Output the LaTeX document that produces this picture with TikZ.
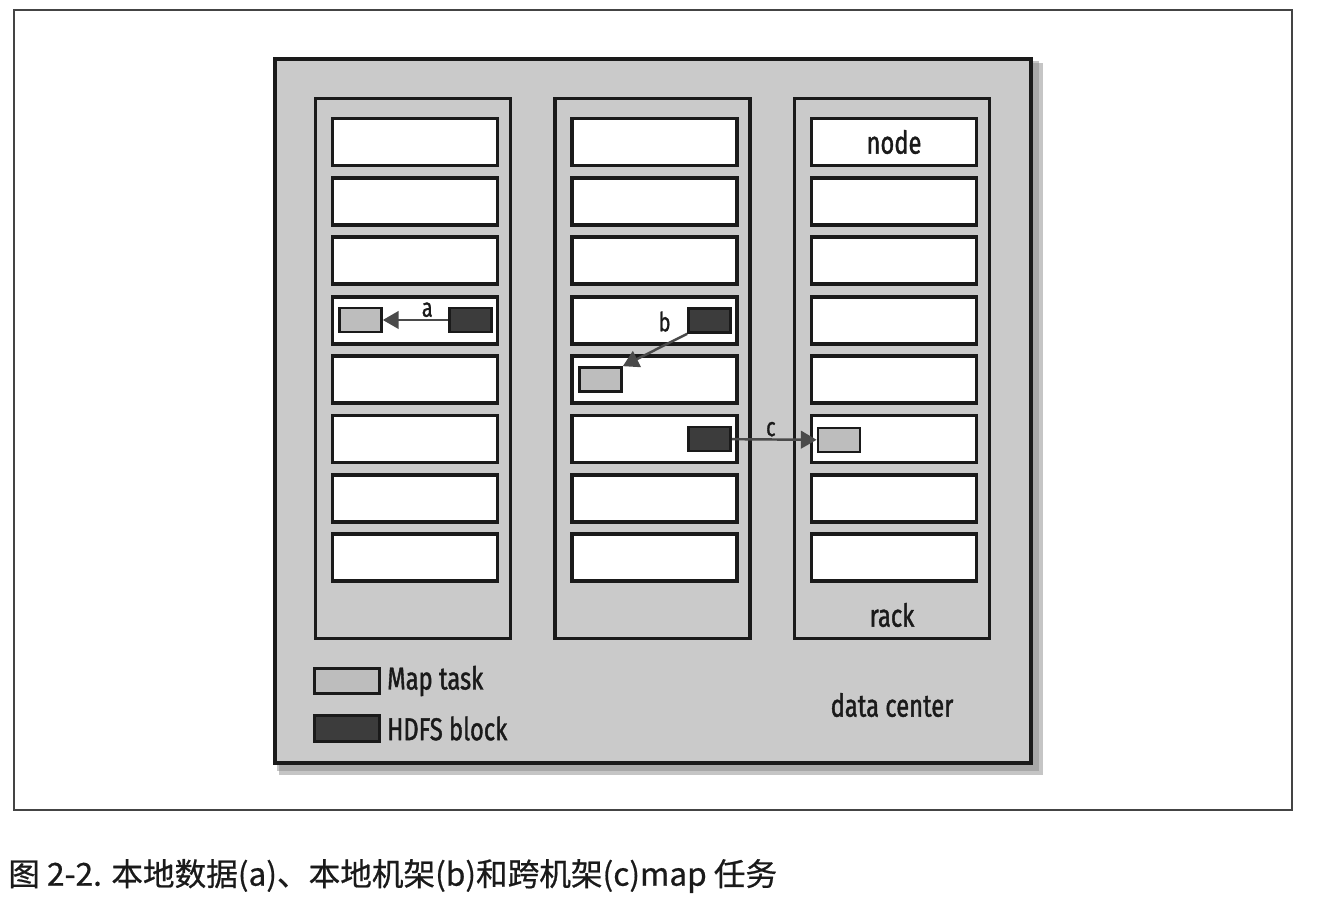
\documentclass[tikz,border=0pt]{standalone}
\usepackage{fontspec}
\usetikzlibrary{arrows.meta,positioning}
\newfontfamily\labelfont[FakeStretch=0.75, FakeBold=1.2]{Fira Sans}
\newfontfamily\cjkfont[FakeBold=0.6]{Noto Sans CJK SC}
\definecolor{linegray}{HTML}{1A1A1A}
\definecolor{framegray}{HTML}{444444}
\definecolor{dcgray}{HTML}{CACACA}
\definecolor{shadowgray}{HTML}{8C8C8C}
\definecolor{taskgray}{HTML}{BDBDBD}
\definecolor{blockgray}{HTML}{3C3C3C}
\definecolor{arrowgray}{HTML}{4A4A4A}
\begin{document}
\begin{tikzpicture}[x=0.02cm, y=-0.02cm,
  rack box/.style={draw=linegray, line width=2pt, minimum width=3.9cm, minimum height=10.8cm, inner sep=0pt},
  node box/.style={draw=linegray, fill=white, line width=2.1pt, minimum width=3.3cm, minimum height=0.94cm, inner sep=0pt},
  task box/.style={draw=linegray, fill=taskgray, line width=1.5pt, minimum width=0.84cm, minimum height=0.48cm, inner sep=0pt},
  block box/.style={task box, fill=blockgray},
  move/.style={-{Triangle[length=9pt,width=10pt]}, draw=arrowgray, line width=1.4pt}]
  \tikzstyle{every node}=[font=\labelfont\fontsize{18}{20}\selectfont, text=linegray]

  \useasboundingbox (0,0) rectangle (1326,918);
  \draw[framegray, line width=0.8pt] (14,10) rectangle (1292,810);

  % data center with its shadow
  \fill[shadowgray, opacity=0.5] (279,63) rectangle (1043,775);
  \fill[shadowgray, opacity=0.5] (277,61) rectangle (1039,771);
  \node[draw=linegray, fill=dcgray, line width=2.2pt, minimum width=15.13cm, minimum height=14.09cm, inner sep=0pt] (dc) at (653,411) {};

  % racks and their nodes
  \foreach \r in {1,2,3} {
    \node[rack box] (rack\r) at (413+239.5*\r-239.5, 368.5) {};
    \foreach \n in {1,...,8}
      \node[node box] (n\r-\n) at (415+239.5*\r-239.5, 142+59.4*\n-59.4) {};
  }

  \node (nodelabel) at (n3-1) {node};
  \node (racklabel) at (892,615) {rack};
  \node (dclabel) at (892,705) {data center};

  % map tasks and blocks
  \node[task box] (taska) at (360.5,320) {};
  \node[block box] (blka) at (470.5,320) {};
  \node[task box] (taskb) at (600.5,379.5) {};
  \node[block box] (blkb) at (709.5,320.5) {};
  \node[block box] (blkc) at (709.5,439) {};
  \node[task box] (taskc) at (839,440) {};

  \path[every node/.style={font=\labelfont\fontsize{15}{16}\selectfont, text=linegray, inner sep=1pt}]
    (blka) edge[move] node [pos=0.32, above] {a} (taska)
    (blkb.south west) edge[move] node [pos=0.35, above, yshift=6pt] {b} (taskb.north east)
    (blkc) edge[move] node [pos=0.46, above] {c} (taskc);

  % legend
  \node[task box, minimum width=1.31cm, minimum height=0.51cm] (legtask) at (347,681) {};
  \node[right=0pt of legtask] (legtasktext) {Map task};
  \node[block box, minimum width=1.31cm, minimum height=0.51cm] (legblock) at (347,728.5) {};
  \node[right=0pt of legblock] (legblocktext) {HDFS block};

  \node[anchor=west, inner sep=0pt, font=\cjkfont\fontsize{18}{20}\selectfont] (caption) at (8,876) {图 2-2. 本地数据(a)、本地机架(b)和跨机架(c)map 任务};
\end{tikzpicture}
\end{document}
